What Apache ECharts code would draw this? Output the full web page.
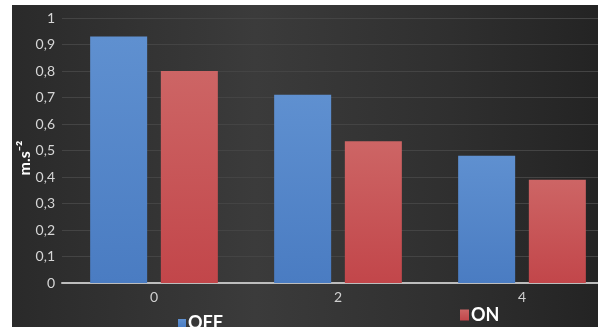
<!DOCTYPE html>
<html>
<head>
<meta charset="utf-8">
<script src="https://cdn.jsdelivr.net/npm/echarts@6/dist/echarts.min.js"></script>
<style>
html,body{margin:0;padding:0;background:#fff;overflow:hidden;width:598px;height:327px;}
#c{width:620px;height:327px;}
</style>
</head>
<body>
<div id="c"></div>
<script>
var categories = ['0', '2', '4'];
var offValues = [0.93, 0.71, 0.48];
var onValues = [0.80, 0.535, 0.39];
var seriesNames = ['OFF', 'ON'];
var yTitle = 'm.s\u207B\u00B2';

var chart = echarts.init(document.getElementById('c'), null, {renderer: 'canvas'});
var blueGrad = new echarts.graphic.LinearGradient(0, 0, 0, 1, [
  {offset: 0, color: '#5f90d0'}, {offset: 1, color: '#4a7cc2'}
]);
var redGrad = new echarts.graphic.LinearGradient(0, 0, 0, 1, [
  {offset: 0, color: '#cd6565'}, {offset: 1, color: '#c2464a'}
]);
chart.setOption({
  animation: false,
  backgroundColor: 'transparent',
  graphic: [{
    type: 'rect', z: -10, silent: true,
    shape: {x: 12, y: 5, width: 608, height: 322},
    style: {
      fill: new echarts.graphic.LinearGradient(0, 0, 1, 0, [
        {offset: 0, color: '#2a2a2a'},
        {offset: 0.4, color: '#3b3b3b'},
        {offset: 0.7, color: '#303030'},
        {offset: 1, color: '#222222'}
      ])
    }
  }, {
    type: 'text', silent: true, z: 10,
    x: 25, y: 158, rotation: Math.PI / 2,
    style: {
      text: yTitle, fill: '#ffffff', fontFamily: 'Lato', fontWeight: 'bold', fontSize: 16,
      align: 'center', verticalAlign: 'middle'
    }
  }],
  grid: {left: 62, right: 6, top: 18, bottom: 44, containLabel: false},
  legend: [{
    data: ['OFF'], left: 173, top: 309, icon: 'rect', itemWidth: 8, itemHeight: 8, itemGap: 2,
    textStyle: {color: '#ffffff', fontFamily: 'Lato', fontWeight: 'bold', fontSize: 18, padding: [0, 0, 0, -3]}
  }, {
    data: ['ON'], left: 455, top: 301, icon: 'rect', itemWidth: 9, itemHeight: 11, itemGap: 2,
    textStyle: {color: '#ffffff', fontFamily: 'Lato', fontWeight: 'bold', fontSize: 18, padding: [0, 0, 0, -3]}
  }],
  xAxis: {
    type: 'category', data: categories,
    axisLine: {show: true, lineStyle: {color: '#bdbdbd', width: 2}},
    axisTick: {show: false},
    axisLabel: {color: '#d0d0d0', fontFamily: 'Lato', fontSize: 14, margin: 7}
  },
  yAxis: {
    type: 'value', min: 0, max: 1, interval: 0.1,
    axisLine: {show: false}, axisTick: {show: false},
    axisLabel: {
      color: '#d6d6d6', fontFamily: 'Lato', fontSize: 14, margin: 7,
      formatter: function (v) { return String(Math.round(v * 10) / 10).replace('.', ','); }
    },
    splitLine: {show: true, lineStyle: {color: '#444444', width: 1}}
  },
  series: [{
    name: seriesNames[0], type: 'bar', data: offValues, barWidth: 57, barGap: '24%',
    itemStyle: {color: blueGrad}
  }, {
    name: seriesNames[1], type: 'bar', data: onValues, barWidth: 57, barGap: '24%',
    itemStyle: {color: redGrad}
  }]
});
</script>
</body>
</html>
